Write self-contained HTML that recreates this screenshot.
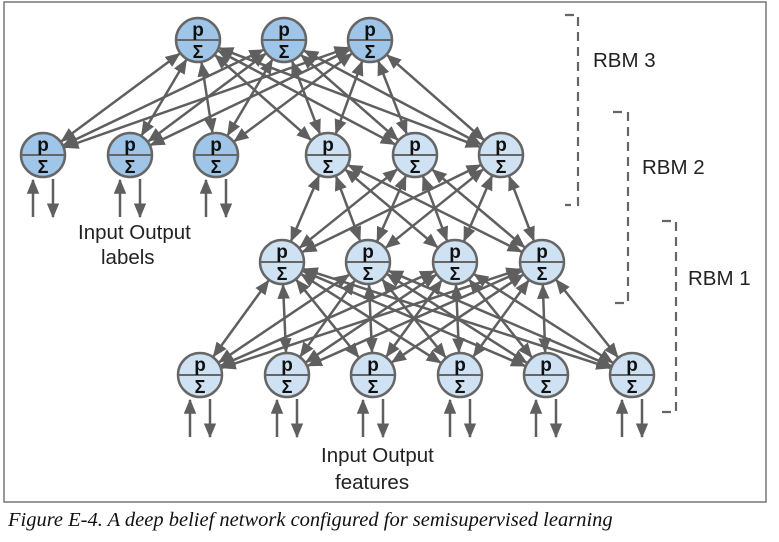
<!DOCTYPE html>
<html><head><meta charset="utf-8"><style>
html,body{margin:0;padding:0;background:#fff}
svg{display:block}
</style></head><body>
<svg id="s" width="779" height="542" viewBox="0 0 779 542" xmlns="http://www.w3.org/2000/svg">
<defs>
<marker id="ah" viewBox="0 0 12 10" refX="11" refY="5" markerWidth="6" markerHeight="5" orient="auto-start-reverse" markerUnits="strokeWidth">
<path d="M0,0 L12,5 L0,10 z" fill="#5f5f5f"/>
</marker>
</defs>
<rect x="4" y="2" width="762" height="500" fill="none" stroke="#777" stroke-width="1.5"/>
<g id="lines" stroke="#5f5f5f" stroke-width="2.5" fill="none"></g>
<g id="nodes"></g>
<g stroke="#666" stroke-width="2.2" fill="none" stroke-dasharray="9,6">
<path d="M565,15 H578 V205 H565"/>
<path d="M613,112 H628 V303 H613"/>
<path d="M662,221 H676 V412 H662"/>
</g>
<g font-family="Liberation Sans, sans-serif" font-size="20.5" fill="#222">
<text x="593" y="67">RBM 3</text>
<text x="642" y="174">RBM 2</text>
<text x="688" y="285">RBM 1</text>
<text x="78" y="239">Input Output</text>
<text x="101" y="264">labels</text>
<text x="321" y="462">Input Output</text>
<text x="335" y="489">features</text>
</g>
<text x="8" y="526" font-family="Liberation Serif, serif" font-style="italic" font-size="20.5" fill="#111">Figure E-4. A deep belief network configured for semisupervised learning</text>
</svg>
<script>
var R=22,NS="http://www.w3.org/2000/svg";
var L1=[[198,40],[284,40],[370,40]];
var L2d=[[43,155],[130,155],[216,155]];
var L2l=[[328,155],[415,155],[501,155]];
var L3=[[282,262],[368,262],[455,262],[542,262]];
var L4=[[200,375],[287,375],[373,375],[460,375],[546,375],[632,375]];
var lg=document.getElementById('lines'),ng=document.getElementById('nodes');
function line(x1,y1,x2,y2,ms,me){var l=document.createElementNS(NS,'line');l.setAttribute('x1',x1);l.setAttribute('y1',y1);l.setAttribute('x2',x2);l.setAttribute('y2',y2);if(ms)l.setAttribute('marker-start','url(#ah)');if(me)l.setAttribute('marker-end','url(#ah)');lg.appendChild(l);}
function conn(A,B){A.forEach(function(a){B.forEach(function(b){var dx=b[0]-a[0],dy=b[1]-a[1],d=Math.hypot(dx,dy),ux=dx/d,uy=dy/d;line(a[0]+ux*(R+1),a[1]+uy*(R+1),b[0]-ux*(R+1),b[1]-uy*(R+1),true,true);});});}
conn(L1,L2d.concat(L2l));conn(L2l,L3);conn(L3,L4);
function io(arr){arr.forEach(function(n){line(n[0]-10,n[1]+62,n[0]-10,n[1]+R+3,false,true);line(n[0]+10,n[1]+R+2,n[0]+10,n[1]+62,false,true);});}
io(L2d);io(L4);
function node(n,fill){var g=document.createElementNS(NS,'g');
g.innerHTML='<circle cx="'+n[0]+'" cy="'+n[1]+'" r="'+R+'" fill="'+fill+'" stroke="#666" stroke-width="2.5"/>'+
'<line x1="'+(n[0]-R)+'" y1="'+n[1]+'" x2="'+(n[0]+R)+'" y2="'+n[1]+'" stroke="#666" stroke-width="2"/>'+
'<text x="'+n[0]+'" y="'+(n[1]-4)+'" text-anchor="middle" font-family="Liberation Sans, sans-serif" font-weight="bold" font-size="19" fill="#111">p</text>'+
'<text x="'+n[0]+'" y="'+(n[1]+18)+'" text-anchor="middle" font-family="Liberation Sans, sans-serif" font-weight="bold" font-size="18" fill="#111">Σ</text>';
ng.appendChild(g);}
L1.concat(L2d).forEach(function(n){node(n,'#9fc5e8');});
L2l.concat(L3,L4).forEach(function(n){node(n,'#cfe2f3');});
</script>
</body></html>
